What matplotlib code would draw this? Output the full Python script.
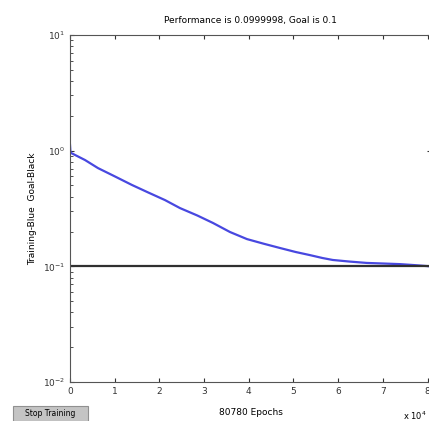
import matplotlib
matplotlib.use("Agg")
import matplotlib.pyplot as plt
from matplotlib.patches import Rectangle
from matplotlib.ticker import LogLocator, NullFormatter, FixedLocator

# Data (epochs in units of 1e4)
epochs = [0.0, 0.01, 0.03, 0.336, 0.626, 1.0, 1.387, 1.75, 2.125, 2.46, 2.85, 3.20, 3.58, 3.96,
          4.33, 4.70, 5.05, 5.37, 5.65, 5.88, 6.25, 6.64, 7.0, 7.38, 7.7, 7.99, 8.078]
performance = [1.12, 0.98, 0.953, 0.83, 0.707, 0.60, 0.505, 0.435, 0.374, 0.319, 0.275, 0.237, 0.198, 0.172,
               0.157, 0.144, 0.133, 0.125, 0.118, 0.1135, 0.110, 0.107, 0.1058, 0.1045, 0.1025, 0.1005, 0.1]
goal = 0.1
x_ticks = [0, 1, 2, 3, 4, 5, 6, 7, 8]
y_ticks = [1e-2, 1e-1, 1e0, 1e1]
title = "Performance is 0.0999998, Goal is 0.1"
ylabel = "Training-Blue  Goal-Black"
xlabel = "80780 Epochs"

fig = plt.figure(figsize=(4.29, 4.21), dpi=100)
ax = fig.add_axes([70/429, 1 - 382/421, 361/429, (382-35)/421])

ax.set_yscale("log")
ax.plot(epochs, performance, color="#4848e0", lw=1.6)
ax.plot([0, 8.078], [goal, goal], color="#303030", lw=1.6)

ax.set_xlim(0, 8.078)
ax.set_ylim(1e-2, 1e1)
ax.xaxis.set_major_locator(FixedLocator(x_ticks))
ax.yaxis.set_major_locator(FixedLocator(y_ticks))
ax.yaxis.set_minor_locator(LogLocator(base=10, subs=range(2, 10)))
ax.yaxis.set_minor_formatter(NullFormatter())
ax.tick_params(which="both", direction="in", top=True, right=True, labelsize=6.5, colors="#333333")
ax.tick_params(which="major", length=3)
ax.tick_params(which="minor", length=1.8)
for s in ax.spines.values():
    s.set_color("#555555")
    s.set_linewidth(0.8)

ax.set_title(title, fontsize=6.5, pad=9)
ax.set_xlabel(xlabel, fontsize=6.5, labelpad=9)
ax.set_ylabel(ylabel, fontsize=6.5, labelpad=4)

fig.text(427/429, 1 - 416/421, r"x 10$^4$", fontsize=6, ha="right", va="center")

# Stop Training button
fig.patches.append(Rectangle((13/429, 0), 75/429, 15/421, transform=fig.transFigure,
                             facecolor="#c4c4c4", edgecolor="#909090", lw=0.8))
fig.text(50/429, 8/421, "Stop Training", fontsize=5.5, ha="center", va="center")

fig.savefig("out.png", dpi=100)
